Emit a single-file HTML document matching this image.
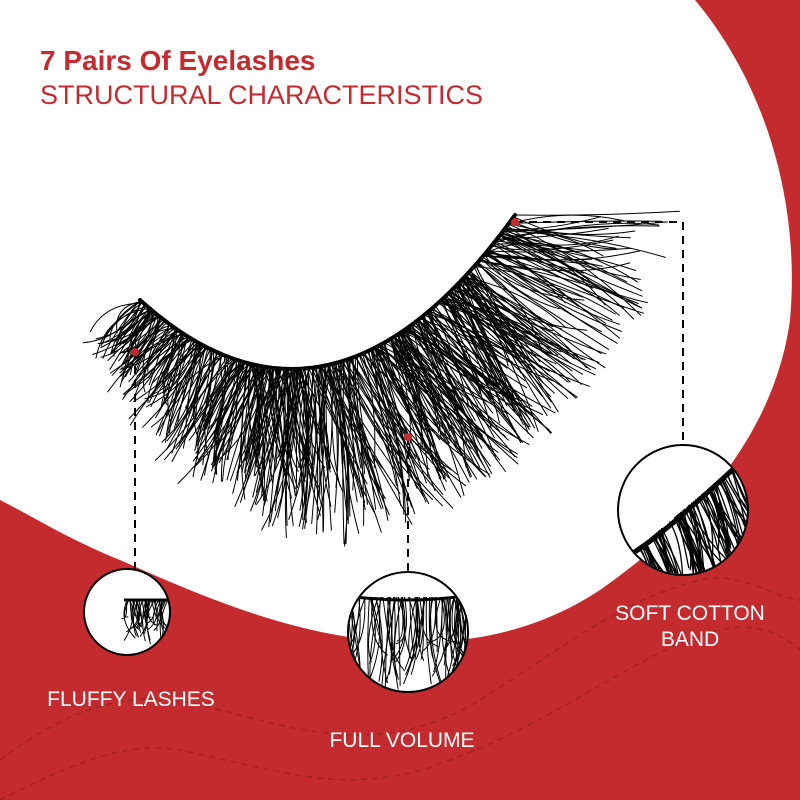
<!DOCTYPE html>
<html><head><meta charset="utf-8"><style>
html,body{margin:0;padding:0;width:800px;height:800px;overflow:hidden;background:#c42b2f;}
svg{display:block}
</style></head><body>
<svg id="s" width="800" height="800" viewBox="0 0 800 800" xmlns="http://www.w3.org/2000/svg">
<rect width="800" height="800" fill="#c42b2f"/>
<g fill="none" stroke="#8e1d20" stroke-width="1.5" stroke-dasharray="6 5" opacity="0.6">
<path d="M0,760 C80,700 140,690 200,705 C300,730 380,760 480,700 C560,650 620,600 700,580 C740,570 780,600 800,600"/>
<path d="M0,800 C60,770 120,740 180,750 C280,770 350,800 450,760 C560,720 640,650 720,630 C760,620 790,640 800,650"/>
</g>
<path d="M0,0 L695,0 C770,90 800,210 790,320 C775,430 700,520 600,590 C540,630 470,645 400,642 C300,638 210,600 120,560 C70,540 30,515 0,500 Z" fill="#fff"/>
<text x="40" y="70" font-family="Liberation Sans, sans-serif" font-weight="bold" font-size="28" fill="#c42b2f">7 Pairs Of Eyelashes</text>
<text x="40" y="104" font-family="Liberation Sans, sans-serif" font-size="27" fill="#c42b2f">STRUCTURAL CHARACTERISTICS</text>
<g id="lash" fill="none" stroke="#000" stroke-width="1" stroke-linecap="round"></g>
<g fill="none" stroke="#000" stroke-width="2" stroke-dasharray="8 6">
<path d="M135,352 L135,570"/>
<path d="M408,437 L408,582"/>
<path d="M515,222 L683,222 L683,450"/>
</g>
<defs>
<clipPath id="c1"><circle cx="127" cy="612" r="42"/></clipPath>
<clipPath id="c2"><circle cx="408" cy="632" r="59"/></clipPath>
<clipPath id="c3"><circle cx="683" cy="510" r="64"/></clipPath>
</defs>
<circle cx="127" cy="612" r="43" fill="#fff" stroke="#000" stroke-width="2"/>
<circle cx="408" cy="632" r="60" fill="#fff" stroke="#000" stroke-width="2"/>
<circle cx="683" cy="510" r="65" fill="#fff" stroke="#000" stroke-width="2"/>
<g id="i1" clip-path="url(#c1)" fill="none" stroke="#000" stroke-width="1"></g>
<g id="i2" clip-path="url(#c2)" fill="none" stroke="#000" stroke-width="1"></g>
<g id="i3" clip-path="url(#c3)" fill="none" stroke="#000" stroke-width="1.3"></g>
<g fill="#c42b2f"><circle cx="135" cy="352" r="4"/><circle cx="408" cy="437" r="4"/><circle cx="515" cy="222" r="4"/></g>
<g font-family="Liberation Sans, sans-serif" font-size="21" fill="#fff" text-anchor="middle">
<text x="131" y="706">FLUFFY LASHES</text>
<text x="402" y="747">FULL VOLUME</text>
<text x="690" y="620">SOFT COTTON</text>
<text x="690" y="646">BAND</text>
</g>
</svg>
<script>
var seed=7;function r(){seed=(seed*16807)%2147483647;return seed/2147483647;}
var NS="http://www.w3.org/2000/svg";
function P(g,d,w){var p=document.createElementNS(NS,"path");p.setAttribute("d",d);if(w)p.setAttribute("stroke-width",w);document.getElementById(g).appendChild(p);return p;}
var A=[140,300],B=[330,472],C=[515,215];
function bz(t){var u=1-t;return [u*u*A[0]+2*u*t*B[0]+t*t*C[0],u*u*A[1]+2*u*t*B[1]+t*t*C[1]];}
function tg(t){return [2*(1-t)*(B[0]-A[0])+2*t*(C[0]-B[0]),2*(1-t)*(B[1]-A[1])+2*t*(C[1]-B[1])];}
var d="M"+A;for(var i=1;i<=40;i++){d+=" L"+bz(i/40);}P("lash",d,4);
for(var k=0;k<600;k++){var t=r();var p=bz(t),tv=tg(t);var l=Math.hypot(tv[0],tv[1]);var nx=-tv[1]/l,ny=tv[0]/l;
var len=(t<0.5?65+210*t:170-40*(t-0.5))*(0.6+0.5*r());
var ang=Math.atan2(ny,nx)+(r()-0.5)*0.8-(t>0.9?0.4:0);
var ex=p[0]+Math.cos(ang)*len,ey=p[1]+Math.sin(ang)*len;
var cx=(p[0]+ex)/2+(r()-0.5)*40,cy=(p[1]+ey)/2+(r()-0.5)*40;
P("lash","M"+p[0].toFixed(1)+","+p[1].toFixed(1)+" Q"+cx.toFixed(1)+","+cy.toFixed(1)+" "+ex.toFixed(1)+","+ey.toFixed(1));}
P("i1","M124,600 L170,600",3);
for(var k=0;k<40;k++){var x=124+r()*45;P("i1","M"+x+",601 Q"+(x+(r()-0.5)*20)+",620 "+(x+(r()-0.5)*20)+","+(615+r()*30));}
P("i2","M340,595 Q408,605 470,595",3);
for(var k=0;k<90;k++){var x=340+r()*130;P("i2","M"+x+",597 Q"+(x+(r()-0.5)*30)+",640 "+(x+(r()-0.5)*30)+","+(640+r()*50));}
P("i3","M630,555 C670,530 720,480 760,445",5);
for(var k=0;k<110;k++){var x=630+r()*130,y=555-(x-630)*0.85;P("i3","M"+x.toFixed(1)+","+y.toFixed(1)+" Q"+(x+5+r()*15).toFixed(1)+","+(y+25).toFixed(1)+" "+(x+10+r()*30).toFixed(1)+","+(y+50+r()*40).toFixed(1));}
</script>
</body></html>
